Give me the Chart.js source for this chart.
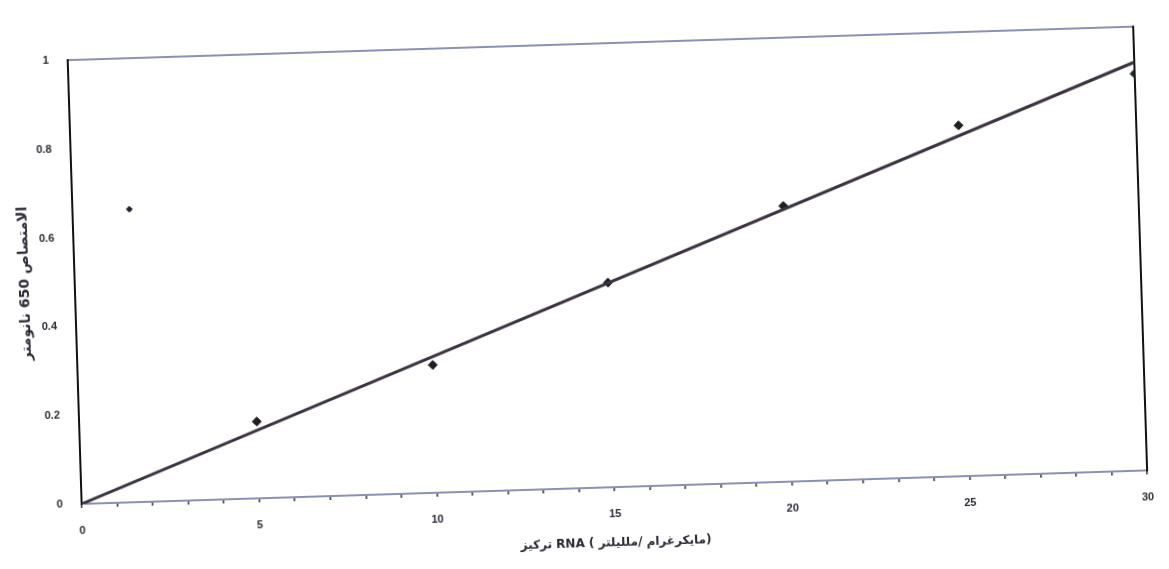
<!DOCTYPE html>
<html>
<head>
<meta charset="utf-8">
<script src="https://cdn.jsdelivr.net/npm/chart.js@4.4.1/dist/chart.umd.min.js"></script>
<style>
  html, body { margin: 0; padding: 0; background: #ffffff; overflow: hidden; }
  #wrap { width: 1169px; height: 569px; transform: rotate(-1.8deg); transform-origin: 50% 50%; }
</style>
</head>
<body>
<div id="wrap"><canvas id="chart" width="1169" height="569"></canvas></div>
<script>
// values
var concentration = [5, 10, 15, 20, 25, 30]
var absorbance = [0.173, 0.288, 0.461, 0.621, 0.79, 0.894]
var strayX = [1.6]
var strayY = [0.66]
var fitX = [0, 30]
var fitY = [0, 0.92]
var xLabels = [0, 5, 10, 15, 20, 25, 30]
var yLabels = [0, 0.2, 0.4, 0.6, 0.8, 1]

var yTitle = 'الامتصاص 650 نانومتر'
var xTitle = 'تركيز RNA ( مايكرغرام /ملليلتر)'

function pairs(xs, ys) {
    return xs.map(function (x, i) { return { x: x, y: ys[i] } })
}

var font = { family: 'Liberation Sans', size: 11, weight: 'bold' }
var titleFont = { family: 'DejaVu Sans', size: 12, weight: 'bold' }
var inkColor = '#2a2a35'
var edgeColor = '#8c90b4'

var ctx = document.getElementById('chart').getContext('2d')
var chart = new Chart(ctx, {
    type: 'scatter',
    data: {
        datasets: [{
            type: 'line',
            label: 'fit',
            data: pairs(fitX, fitY),
            borderColor: '#3b3340',
            borderWidth: 3,
            pointRadius: 0,
            fill: false
        }, {
            label: 'absorbance',
            data: pairs(concentration, absorbance),
            pointStyle: 'rectRot',
            pointRadius: 4.5,
            backgroundColor: '#1e1e24',
            borderColor: '#1e1e24'
        }, {
            label: 'stray',
            data: pairs(strayX, strayY),
            pointStyle: 'rectRot',
            pointRadius: 3,
            backgroundColor: '#2a2030',
            borderColor: '#2a2030'
        }]
    },
    options: {
        responsive: false,
        animation: false,
        layout: { padding: { top: 44, left: 0, right: 0, bottom: 0 } },
        plugins: { legend: { display: false }, tooltip: { enabled: false } },
        scales: {
            x: {
                type: 'linear',
                min: 0,
                max: 30,
                afterFit: function (s) { s.height = 81 },
                afterBuildTicks: function (s) {
                    var t = []
                    for (var i = 0; i <= 30; i++) t.push({ value: i })
                    s.ticks = t
                },
                border: { color: edgeColor, width: 2 },
                grid: { drawOnChartArea: false, tickLength: 4, tickColor: '#333', lineWidth: 1.5 },
                ticks: {
                    autoSkip: false,
                    maxRotation: 0,
                    padding: 16,
                    color: inkColor,
                    font: font,
                    callback: function (v) { return xLabels.indexOf(v) >= 0 ? String(v) : '' }
                },
                title: { display: true, text: xTitle, color: inkColor, font: titleFont, padding: { top: 0, bottom: 18 } }
            },
            y: {
                min: 0,
                max: 1,
                afterFit: function (s) { s.width = 75 },
                afterBuildTicks: function (s) {
                    s.ticks = yLabels.map(function (v) { return { value: v } })
                },
                border: { color: '#111', width: 2 },
                grid: {
                    drawTicks: false,
                    lineWidth: 2,
                    color: function (c) { return c.tick && c.tick.value === 1 ? edgeColor : 'rgba(0,0,0,0)' }
                },
                ticks: {
                    padding: 19,
                    color: inkColor,
                    font: font,
                    callback: function (v) { return String(v) }
                },
                title: { display: true, text: yTitle, color: inkColor, font: { family: 'DejaVu Sans', size: 14, weight: 'bold' }, padding: { top: 17, bottom: 0 } }
            },
            y2: {
                position: 'right',
                min: 0,
                max: 1,
                afterFit: function (s) { s.width = 28 },
                border: { color: '#111', width: 2 },
                grid: { display: false },
                ticks: { display: false }
            }
        }
    }
})
</script>
</body>
</html>
